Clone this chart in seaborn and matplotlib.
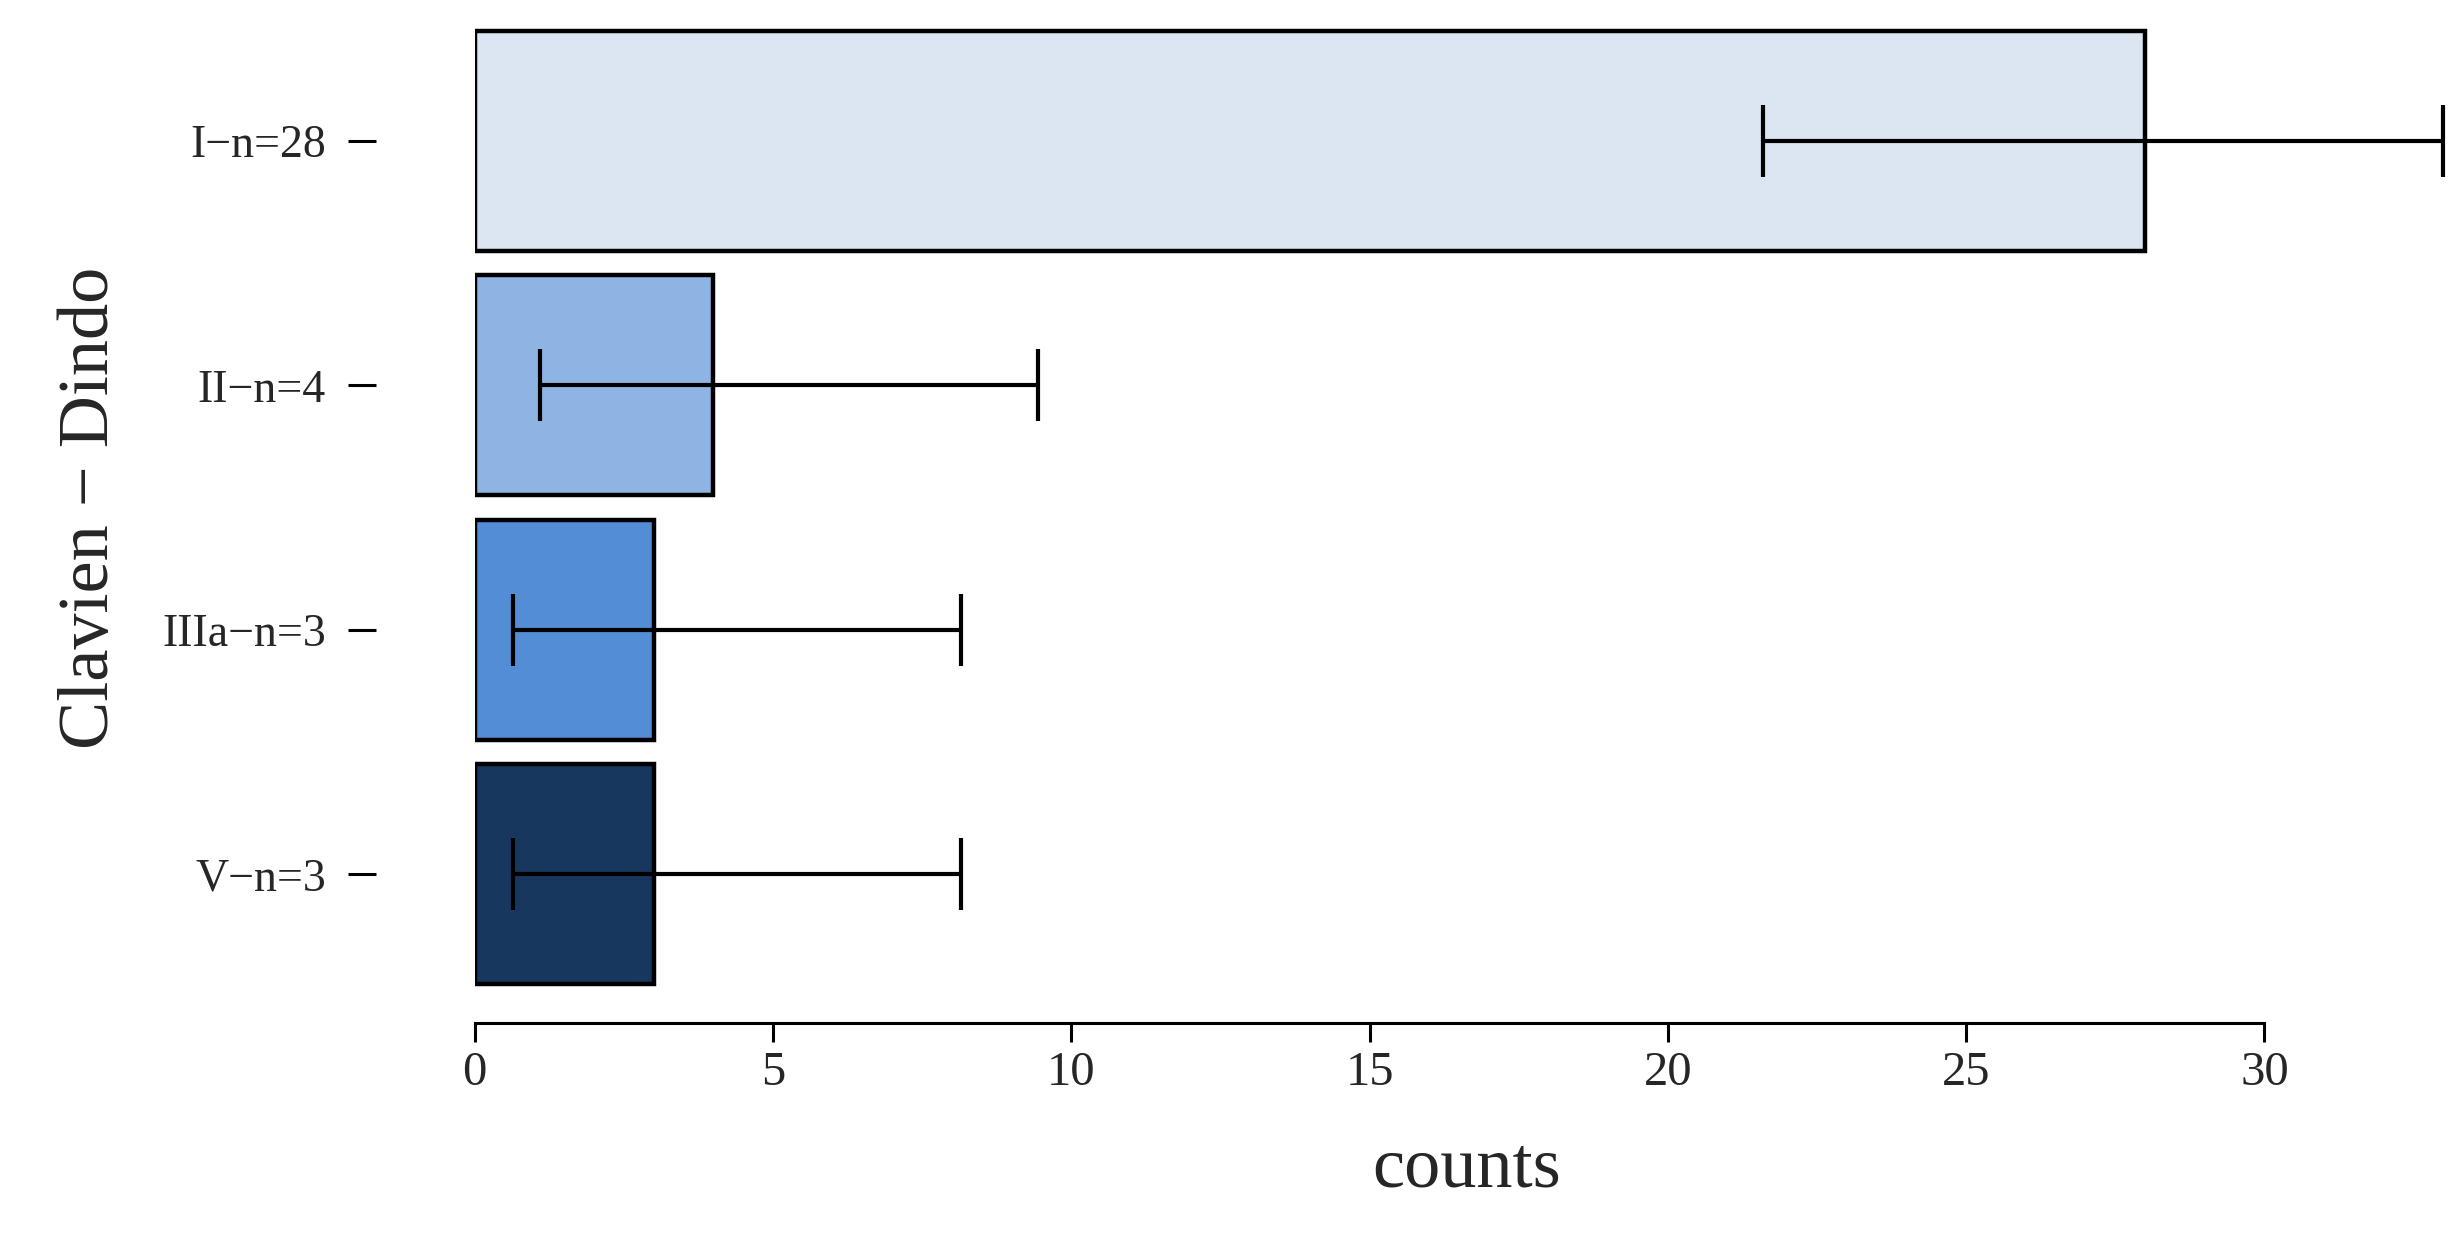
import matplotlib
matplotlib.use("Agg")
import matplotlib.pyplot as plt
import seaborn as sns
import pandas as pd
import numpy as np

categories = ["I\u2212n=28", "II\u2212n=4", "IIIa\u2212n=3", "V\u2212n=3"]
counts = [28, 4, 3, 3]
err_low = [21.6, 1.1, 0.65, 0.65]
err_high = [33.0, 9.45, 8.15, 8.15]
colors = ["#DCE6F2", "#8DB4E2", "#538DD5", "#17375E"]

sns.set_style("white")
plt.rcParams['font.family'] = ['Liberation Serif', 'DejaVu Serif']

df = pd.DataFrame({"cat": categories, "counts": counts})
fig = plt.figure(figsize=(24.59, 12.58), dpi=100)
ax = fig.add_axes([0.193, 0.208, 0.807, 0.777])
sns.barplot(data=df, y="cat", x="counts", hue="cat", palette=colors, order=categories,
            hue_order=categories, orient="h", width=0.9, edgecolor="black", linewidth=3.2,
            saturation=1, errorbar=None, legend=False, ax=ax)
c = np.array(counts, dtype=float)
ax.errorbar(c, np.arange(len(categories)), xerr=[c - np.array(err_low), np.array(err_high) - c],
            fmt="none", ecolor="black", elinewidth=3, capsize=26, capthick=3)
ax.set_xlim(0, 33.26)
ax.set_ylim(3.5, -0.5)
for s in ["top", "right"]:
    ax.spines[s].set_visible(False)
ax.spines["left"].set_visible(False)
ax.spines["left"].set_position(("outward", 71))
ax.spines["bottom"].set_position(("outward", 19))
ax.spines["bottom"].set_bounds(0, 30)
ax.spines["bottom"].set_linewidth(2.2)
ax.spines["bottom"].set_color("black")
ax.set_xticks([0, 5, 10, 15, 20, 25, 30])
ax.tick_params(axis="x", length=14, width=2.2, labelsize=35, pad=6, bottom=True, color="black")
ax.tick_params(axis="y", length=20, width=2.2, labelsize=33, pad=16, left=True, color="black")
ax.set_xlabel("counts", fontsize=52, labelpad=30)
ax.set_ylabel("Clavien \u2212 Dindo", fontsize=52, labelpad=28)
fig.savefig("out.png", dpi=100)
